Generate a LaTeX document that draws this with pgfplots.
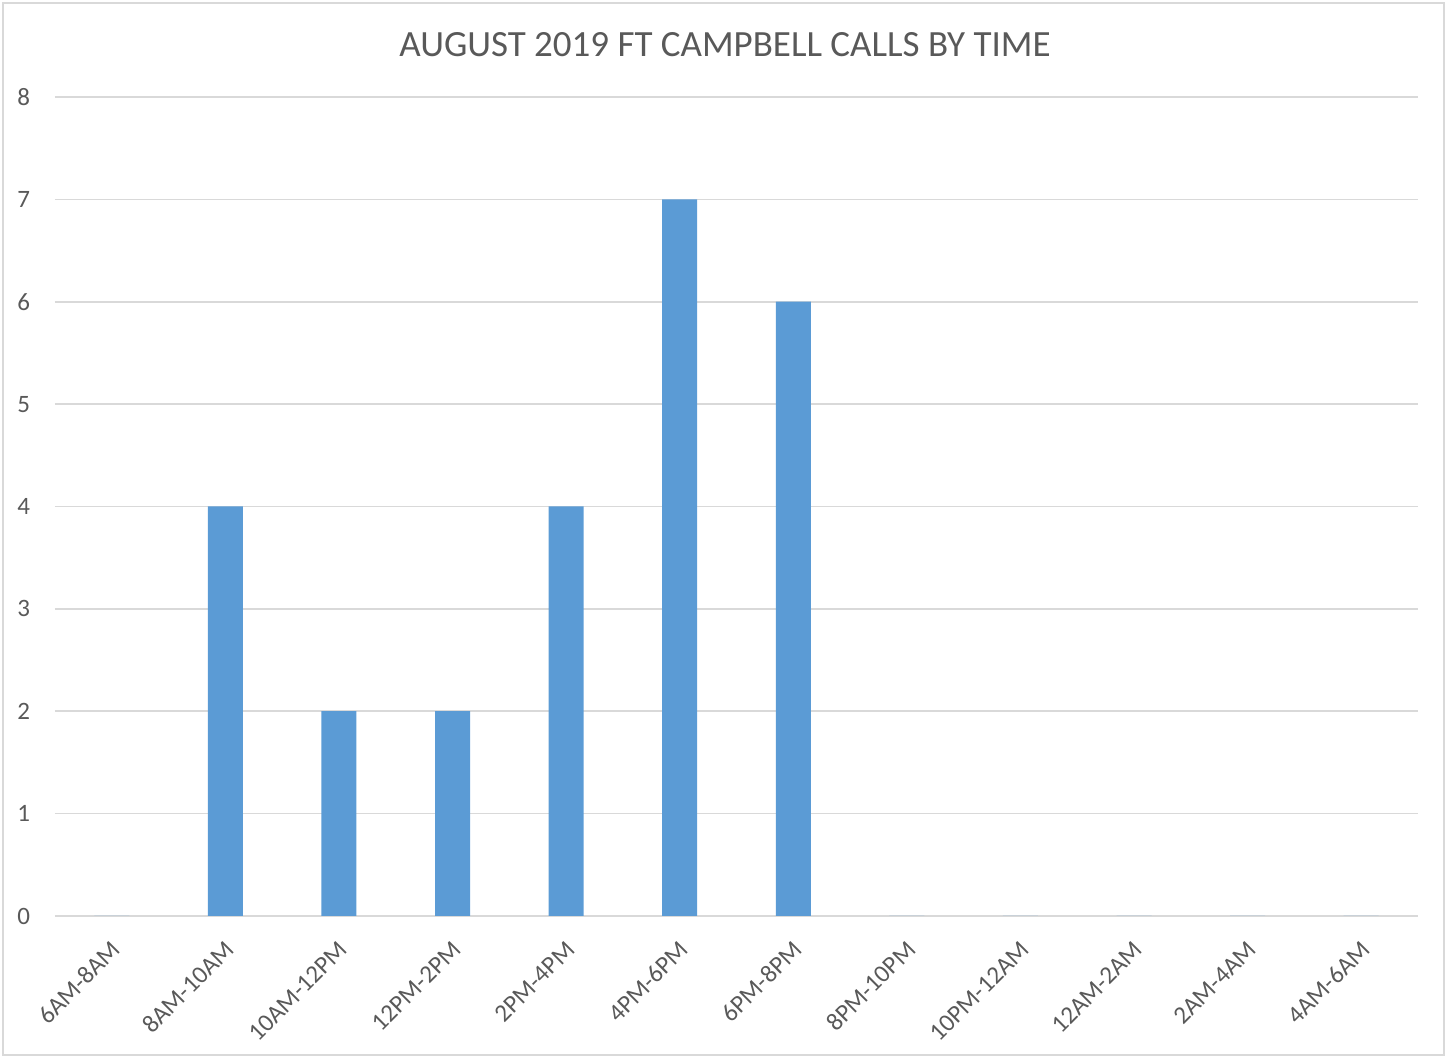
\documentclass[border=0pt]{standalone}
\usepackage{pgfplots}
\pgfplotsset{compat=1.18}
\usepackage{fontspec}
\setmainfont{Carlito}
\definecolor{barblue}{HTML}{5B9BD5}
\definecolor{txt}{HTML}{595959}
\definecolor{gridc}{HTML}{D9D9D9}
\begin{document}
\begin{tikzpicture}
\path[use as bounding box] (-27.5pt,-71pt) rectangle (696pt,458pt);
\draw[gridc, line width=1pt] (-26pt,-69.5pt) rectangle (694.5pt,456.5pt);
\begin{axis}[
  at={(0,0)}, anchor=south west,
  scale only axis, width=681.5pt, height=409.5pt,
  xmin=-0.5, xmax=11.5, ymin=0, ymax=8,
  xtick=data,
  xticklabels={6AM-8AM,8AM-10AM,10AM-12PM,12PM-2PM,2PM-4PM,4PM-6PM,6PM-8PM,8PM-10PM,10PM-12AM,12AM-2AM,2AM-4AM,4AM-6AM},
  ytick={0,1,...,8},
  ymajorgrids, grid style={gridc, line width=0.8pt},
  axis line style={draw=none},
  extra y ticks={0}, extra y tick labels={}, extra y tick style={grid style={gridc, line width=1pt}},
  major tick length=0pt,
  tick label style={font=\fontsize{12.5pt}{14pt}\selectfont, text=txt},
  /pgf/number format/assume math mode=true,
  xticklabel style={anchor=east, xshift=3pt, yshift=-14pt, rotate=45, inner sep=1pt},
  yticklabel style={xshift=-9pt},
  title={AUGUST 2019 FT CAMPBELL CALLS BY TIME},
  title style={at={(0.4916,1)}, anchor=center, yshift=20pt, font=\fontsize{18.5pt}{22pt}\selectfont, text=txt},
  ybar, bar width=17.5pt,
  clip=false,
]
\addplot[fill=barblue, draw=none] coordinates {(0,0) (1,4) (2,2) (3,2) (4,4) (5,7) (6,6) (7,0) (8,0) (9,0) (10,0) (11,0)};
\end{axis}
\end{tikzpicture}
\end{document}
